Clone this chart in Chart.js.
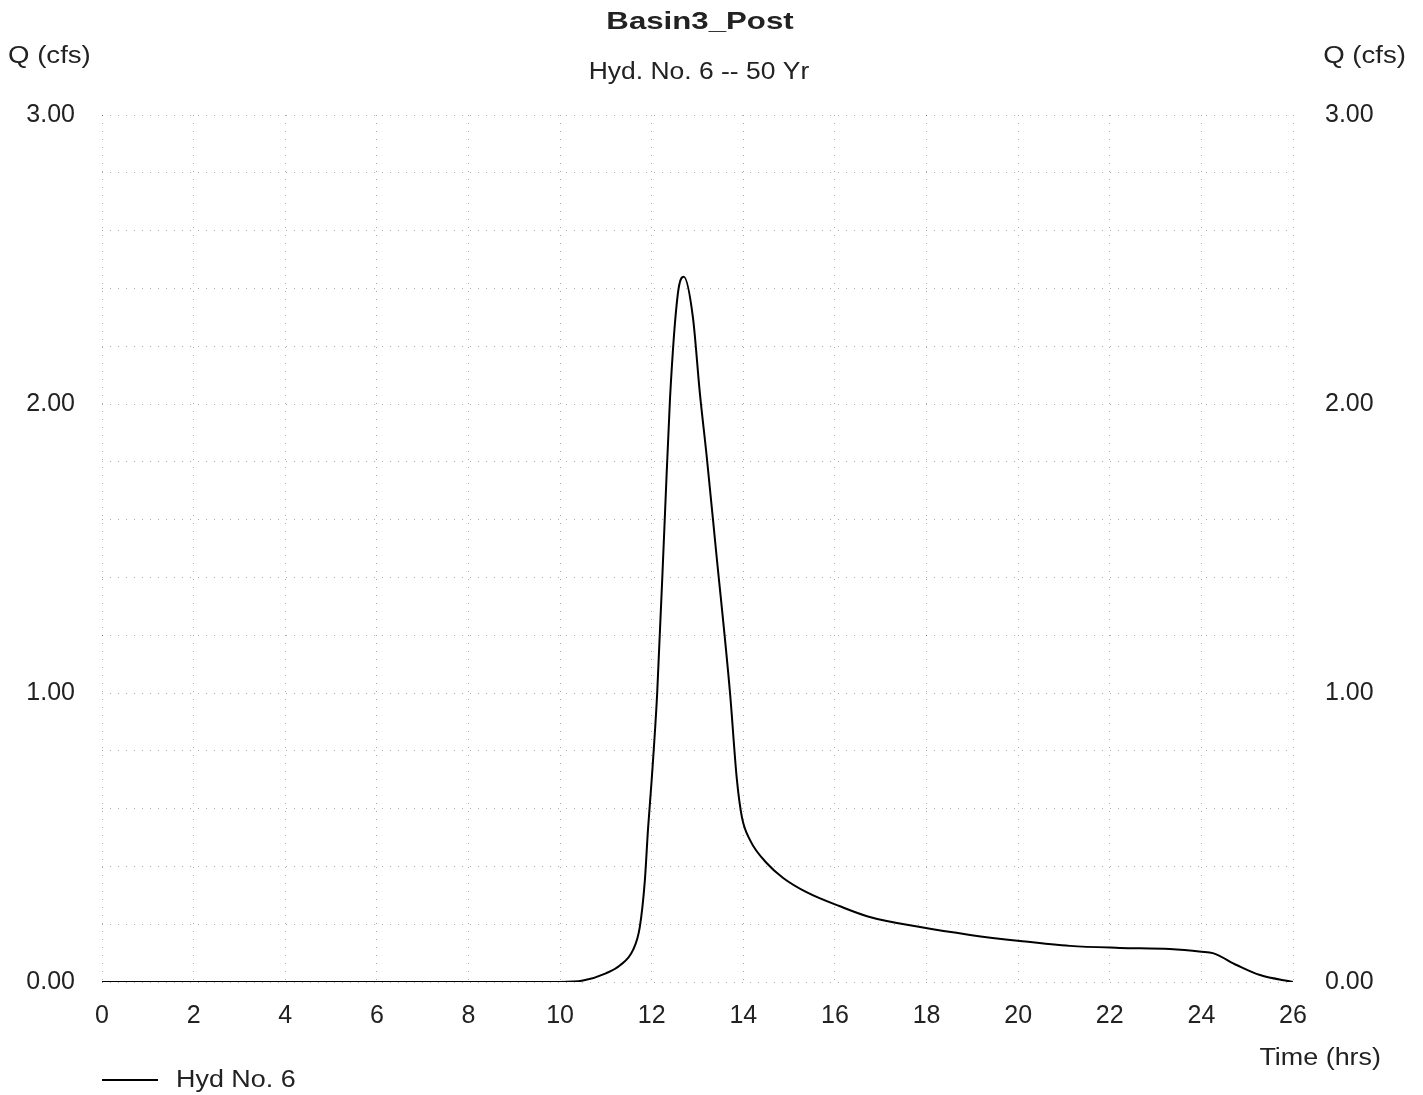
<!DOCTYPE html>
<html>
<head>
<meta charset="utf-8">
<script src="https://cdn.jsdelivr.net/npm/chart.js@4/dist/chart.umd.min.js"></script>
<style>
html,body{margin:0;padding:0;background:#fff;}
canvas{display:block;}
</style>
</head>
<body>
<canvas id="c" width="1423" height="1095"></canvas>
<script>
// ---- data ----
const timeHrs = [0, 2, 4, 6, 8, 10, 10.5, 11.0, 11.31, 11.59, 11.74, 11.85, 11.92, 12.0, 12.12, 12.29, 12.40, 12.57, 12.70, 12.90, 13.05, 13.20, 13.40, 13.71, 13.86, 13.97, 14.15, 14.52, 14.87, 15.39, 16.11, 16.76, 17.86, 18.95, 20.04, 21.13, 22.22, 23.31, 24.0, 24.25, 24.78, 25.28, 26.0];
const flowCfs = [0, 0, 0, 0, 0, 0, 0.005, 0.03, 0.058, 0.11, 0.19, 0.35, 0.53, 0.70, 1.0, 1.62, 2.02, 2.38, 2.44, 2.30, 2.04, 1.82, 1.50, 1.0, 0.70, 0.57, 0.49, 0.41, 0.36, 0.31, 0.262, 0.225, 0.19, 0.163, 0.142, 0.125, 0.118, 0.114, 0.105, 0.10, 0.058, 0.024, 0];
const seriesName = "Hyd No. 6";
const titleText = "Basin3_Post";
const subtitleText = "Hyd. No. 6 -- 50 Yr";
const yAxisTitle = "Q (cfs)";
const xAxisTitle = "Time (hrs)";

const FONT = "'Liberation Sans', Arial, sans-serif";
const gridStyle = {color: 'rgba(0,0,0,0.32)', lineWidth: 1, drawTicks: false};
const dash = [1, 7];

function stretchedText(ctx, text, x, y, sx, align) {
  ctx.save();
  ctx.translate(x, y);
  ctx.scale(sx, 1);
  ctx.textAlign = align;
  ctx.fillText(text, 0, 0);
  ctx.restore();
}

const extraText = {
  id: 'extraText',
  afterDraw(chart) {
    const ctx = chart.ctx;
    const a = chart.chartArea;
    ctx.save();
    ctx.fillStyle = '#222';
    ctx.textBaseline = 'middle';
    ctx.font = 'bold 24px ' + FONT;
    stretchedText(ctx, titleText, 700, 22, 1.3, 'center');
    ctx.font = '23px ' + FONT;
    stretchedText(ctx, subtitleText, 699, 73, 1.15, 'center');
    ctx.font = '23px ' + FONT;
    stretchedText(ctx, yAxisTitle, 8, 57, 1.2, 'left');
    stretchedText(ctx, yAxisTitle, 1406, 57, 1.2, 'right');
    stretchedText(ctx, xAxisTitle, 1381, 1059, 1.17, 'right');
    // legend
    ctx.strokeStyle = '#000';
    ctx.lineWidth = 2;
    ctx.beginPath();
    ctx.moveTo(a.left, 1080);
    ctx.lineTo(a.left + 56, 1080);
    ctx.stroke();
    stretchedText(ctx, seriesName, a.left + 74, 1081, 1.17, 'left');
    ctx.restore();
  }
};

const tickFmt = v => (Math.abs(v - Math.round(v)) < 1e-6 ? Math.round(v).toFixed(2) : '');

new Chart(document.getElementById('c'), {
  type: 'line',
  data: {
    datasets: [{
      label: seriesName,
      data: timeHrs.map((t, i) => ({x: t, y: flowCfs[i]})),
      borderColor: '#000',
      borderWidth: 2,
      pointRadius: 0,
      fill: false,
      cubicInterpolationMode: 'monotone',
      yAxisID: 'y'
    }]
  },
  options: {
    responsive: false,
    animation: false,
    layout: {padding: {top: 115, left: 0, right: 0, bottom: 0}},
    plugins: {legend: {display: false}, title: {display: false}, tooltip: {enabled: false}},
    scales: {
      x: {
        type: 'linear', min: 0, max: 26,
        ticks: {stepSize: 2, color: '#222', font: {family: FONT, size: 25}, padding: 19, maxRotation: 0, autoSkip: false},
        grid: gridStyle,
        border: {display: false, dash: dash},
        afterFit(s) { s.height = 113; }
      },
      y: {
        type: 'linear', position: 'left', min: 0, max: 3,
        ticks: {stepSize: 0.2, callback: tickFmt, color: '#222', font: {family: FONT, size: 25}, padding: 27, autoSkip: false},
        grid: gridStyle,
        border: {display: false, dash: dash},
        afterFit(s) { s.width = 102; }
      },
      y2: {
        type: 'linear', position: 'right', min: 0, max: 3,
        ticks: {stepSize: 0.2, callback: tickFmt, color: '#222', font: {family: FONT, size: 25}, padding: 32, autoSkip: false},
        grid: {display: false, drawTicks: false},
        border: {display: false},
        afterFit(s) { s.width = 130; }
      }
    }
  },
  plugins: [extraText]
});
</script>
</body>
</html>
